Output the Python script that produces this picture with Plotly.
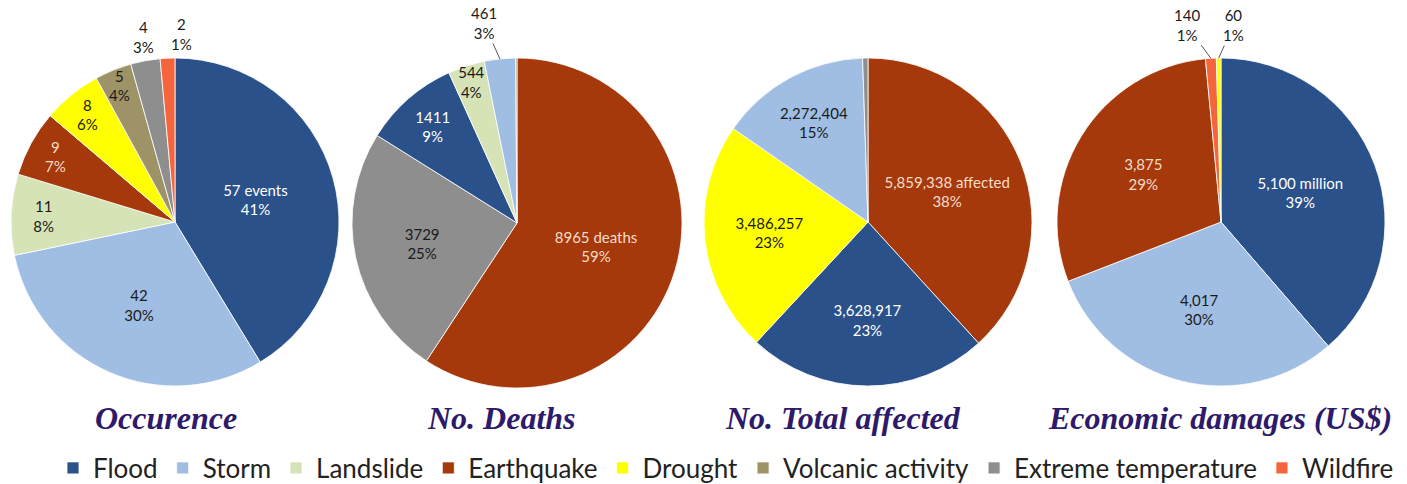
import math
import plotly.graph_objects as go

W, H = 1407, 484

# ---- data ----
occ_labels = ["Flood", "Storm", "Landslide", "Earthquake", "Drought",
              "Volcanic activity", "Extreme temperature", "Wildfire"]
occ_values = [57, 42, 11, 9, 8, 5, 4, 2]
occ_pct = [41, 30, 8, 7, 6, 4, 3, 1]

death_labels = ["Earthquake", "Extreme temperature", "Flood", "Landslide",
                "Storm", "Volcanic activity"]
death_values = [8965, 3729, 1411, 544, 461, 20]
death_pct = [59, 25, 9, 4, 3, None]

aff_labels = ["Earthquake", "Flood", "Drought", "Storm", "Extreme temperature"]
aff_values = [5859338, 3628917, 3486257, 2272404, 80000]
aff_pct = [38, 23, 23, 15, None]

eco_labels = ["Flood", "Storm", "Earthquake", "Wildfire", "Drought"]
eco_values = [5100, 4017, 3875, 140, 60]
eco_pct = [39, 30, 29, 1, 1]

titles = ["Occurence", "No. Deaths", "No. Total affected", "Economic damages (US$)"]

# ---- styles ----
colors = {
    "Flood": "#2A5189",
    "Storm": "#A0BEE4",
    "Landslide": "#D5E3B6",
    "Earthquake": "#A5390C",
    "Drought": "#FFFF00",
    "Volcanic activity": "#9E9366",
    "Extreme temperature": "#8E8E8E",
    "Wildfire": "#F4653D",
}
light_text = {"Flood": "#FFFFFF", "Earthquake": "#F7DCC8"}
DARK = "#1A1A1A"
LABEL_FONT = dict(family="Lato", size=15)


def make_text(values, pct, suffix, comma):
    out = []
    for i, (v, p) in enumerate(zip(values, pct)):
        if p is None:
            out.append("")
            continue
        num = f"{v:,}" if comma else f"{v}"
        if i == 0:
            num += suffix
        out.append(f"{num}<br>{p}%")
    return out


def dom(cx, cy, r):
    return dict(x=[(cx - r) / W, (cx + r) / W],
                y=[1 - (cy + r) / H, 1 - (cy - r) / H])


# pie geometry (pixels): centre x, centre y, radius
# outside labels: slice index -> (text offset x, text offset y, draw leader line)
pies = [
    dict(labels=occ_labels, values=occ_values,
         text=make_text(occ_values, occ_pct, " events", False),
         geom=(175, 222, 164), outside={6: (-2, -24, False), 7: (14, -24, False)}),
    dict(labels=death_labels, values=death_values,
         text=make_text(death_values, death_pct, " deaths", False),
         geom=(517, 223, 165), outside={4: (-16, -36, True)}),
    dict(labels=aff_labels, values=aff_values,
         text=make_text(aff_values, aff_pct, " affected", True),
         geom=(868, 222, 164), outside={}),
    dict(labels=eco_labels, values=eco_values,
         text=make_text(eco_values, eco_pct, " million", True),
         geom=(1221, 222, 164), outside={3: (-24, -33, True), 4: (15, -33, True)}),
]

fig = go.Figure()
for p in pies:
    labels, values, text = p["labels"], p["values"], p["text"]
    cx, cy, r = p["geom"]
    tpos = []
    for i, t in enumerate(text):
        if t == "" or i in p["outside"]:
            tpos.append("none")
        else:
            tpos.append("inside")
    tcolors = [light_text.get(l, DARK) for l in labels]
    fig.add_trace(go.Pie(
        labels=labels, values=values, text=text,
        texttemplate="%{text}", textinfo="text",
        textposition=tpos, insidetextorientation="horizontal",
        textfont=dict(color=tcolors, **LABEL_FONT),
        marker=dict(colors=[colors[l] for l in labels],
                    line=dict(color="rgba(255,255,255,0.8)", width=1)),
        sort=False, direction="clockwise", rotation=0,
        domain=dom(cx, cy, r), hoverinfo="label+value+percent",
    ))
    # outside labels anchored at the slice's mid-angle on the rim
    total = sum(values)
    cum = 0
    for i, v in enumerate(values):
        mid = (cum + v / 2) / total * 2 * math.pi
        cum += v
        if i not in p["outside"]:
            continue
        ox, oy, line = p["outside"][i]
        px = cx + r * math.sin(mid)
        py = cy - r * math.cos(mid)
        fig.add_annotation(
            text=text[i], x=px / W, y=1 - py / H, xref="paper", yref="paper",
            showarrow=True, ax=ox, ay=oy, axref="pixel", ayref="pixel",
            arrowhead=0, arrowwidth=1,
            arrowcolor="#555555" if line else "rgba(0,0,0,0)",
            standoff=0, startstandoff=0,
            font=dict(color=DARK, **LABEL_FONT),
        )

title_x = [166, 501, 843, 1220]
for t, x in zip(titles, title_x):
    fig.add_annotation(
        text=t, x=x / W, y=1 - 418 / H, xref="paper", yref="paper",
        showarrow=False, xanchor="center", yanchor="middle",
        font=dict(family="Liberation Serif", size=32, color="#2E1A6B",
                  weight="bold", style="italic"),
    )

fig.update_layout(
    width=W, height=H,
    margin=dict(l=0, r=0, t=0, b=0, autoexpand=False),
    paper_bgcolor="white", plot_bgcolor="white",
    uniformtext=dict(minsize=15, mode="show"),
    legend=dict(orientation="h", x=0.516, xanchor="center", y=1 - 468 / H,
                yanchor="middle", font=dict(family="Lato", size=26, color="#222222"),
                traceorder="normal"),
)

fig.write_html("out.html")
